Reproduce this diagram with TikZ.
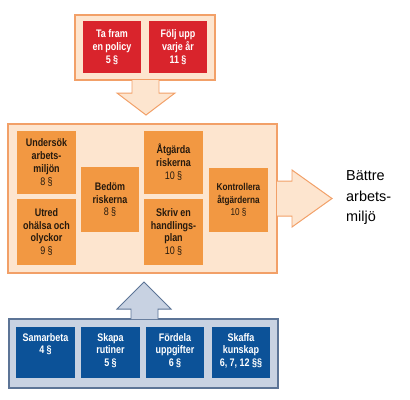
\documentclass[tikz,border=0pt]{standalone}
\usepackage{fontspec}
\setmainfont{Liberation Sans}
\newfontfamily\boxfont[FakeStretch=0.82]{Liberation Sans}
\usetikzlibrary{positioning}
\definecolor{redb}{RGB}{217,36,44}
\definecolor{orab}{RGB}{242,152,66}
\definecolor{peach}{RGB}{253,229,207}
\definecolor{peachb}{RGB}{242,160,104}
\definecolor{blueb}{RGB}{12,82,152}
\definecolor{bluebg}{RGB}{200,210,226}
\definecolor{blueln}{RGB}{92,116,150}
\definecolor{txt}{RGB}{38,26,14}
\tikzset{
  panel/.style={draw=#1,line width=1.2pt},
  box/.style={inner sep=0pt,minimum width=59,minimum height=#1,align=center,
    font=\boxfont\bfseries\fontsize{11}{13}\selectfont},
  redbox/.style={box=52,fill=redb,text=white},
  orbox/.style={box=#1,fill=orab,text=txt},
  bluebox/.style={box=51,fill=blueb},
  bluetxt/.style={inner sep=0pt,anchor=north,align=center,text=white,
    font=\boxfont\bfseries\fontsize{11}{13}\selectfont},
  blockarrow/.style={fill=#1,line width=1pt,line join=miter},
  goal/.style={inner sep=0pt,anchor=north west,align=left,text=black,
    font=\fontsize{14.5}{20.5}\selectfont},
}
\begin{document}
\begin{tikzpicture}[x=1bp,y=-1bp]
\useasboundingbox (0,0) rectangle (410,400);
% ================= top: policy =================
\draw[panel=peachb,fill=peach] (75,15) rectangle (215,80);
\node[redbox] (policy) at (112,47) {Ta fram\\en policy\\5 §};
\node[redbox] (follow) at (178,47) {Följ upp\\varje år\\11 §};
\draw[blockarrow=peach,draw=peachb] (132,80) -- (132,93) -- (117,93) -- (146,115)
  -- (175,93) -- (159,93) -- (159,80);

% ================= middle: the work cycle =================
\draw[panel=peachb,fill=peach] (8,124) rectangle (277,273);
\node[orbox=63] (investigate) at (46.5,162.5) {Undersök\\arbets-\\miljön\\{\mdseries 8 §}};
\node[orbox=66] (inquire) at (46.5,232) {Utred\\ohälsa och\\olyckor\\{\mdseries 9 §}};
\node[orbox=65,minimum width=58] (assess) at (110,199.5) {Bedöm\\riskerna\\{\mdseries 8 §}};
\node[orbox=63] (remedy) at (173.5,162.5) {Åtgärda\\riskerna\\{\mdseries 10 §}};
\node[orbox=66] (plan) at (173.5,232) {Skriv en\\handlings-\\plan\\{\mdseries 10 §}};
\node[orbox=64,font=\boxfont\fontsize{10}{12.5}\selectfont] (check) at (238.5,200)
  {\bfseries Kontrollera\\\bfseries åtgärderna\\10 §};
% arrow out to the goal
\draw[blockarrow=peach,draw=peachb] (277,181) -- (292,181) -- (292,170) -- (332,198.5)
  -- (292,227) -- (292,216) -- (277,216);
\node[goal] (goal) at (346,170.5) {Bättre\\arbets-\\miljö};

% ================= bottom: foundations =================
\draw[panel=blueln,fill=bluebg] (9,319) rectangle (278,388);
\draw[blockarrow=bluebg,draw=blueln] (131,319) -- (131,309) -- (117,309) -- (144,282)
  -- (171,309) -- (158,309) -- (158,319);
\foreach \nm/\cx/\lbl in {coop/45.5/{Samarbeta\\4 §}, routines/110.5/{Skapa\\rutiner\\5 §},
  tasks/175/{Fördela\\uppgifter\\6 §}, skills/241/{Skaffa\\kunskap\\6, 7, 12 §§}}{
  \node[bluebox] (\nm) at (\cx,352.5) {};
  \node[bluetxt,below=6pt of \nm.north] {\lbl};
}
\end{tikzpicture}
\end{document}
